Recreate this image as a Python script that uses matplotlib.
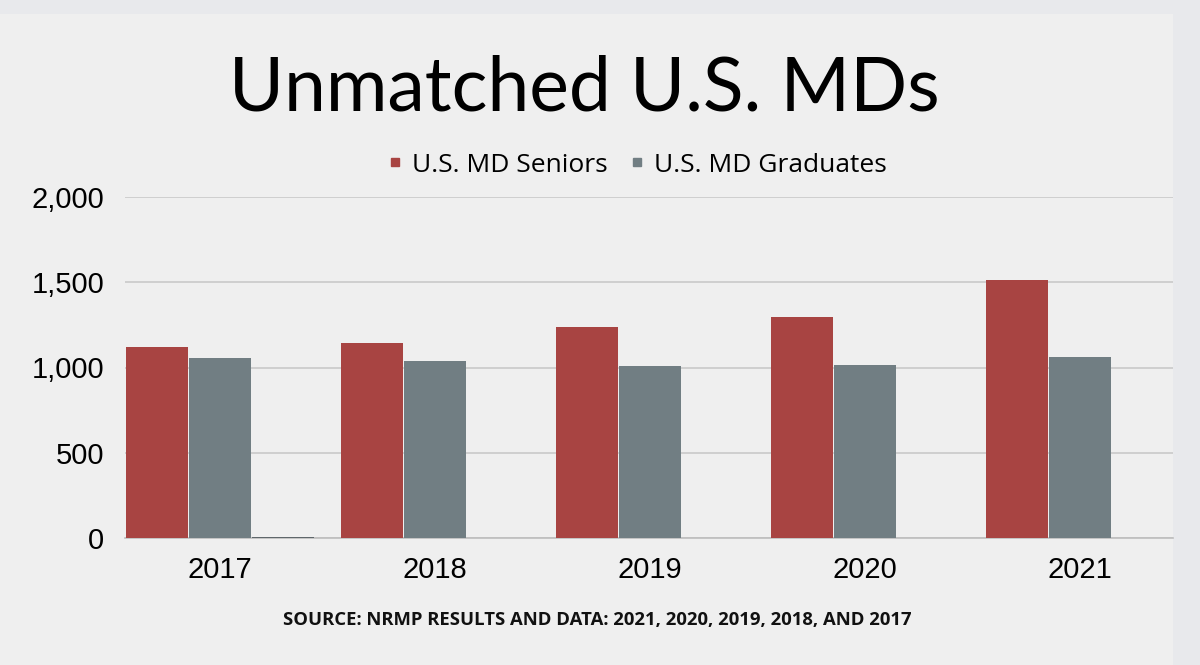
import matplotlib
matplotlib.use("Agg")
import matplotlib.pyplot as plt
from matplotlib.patches import Rectangle
from matplotlib.lines import Line2D
import numpy as np

# data
years = ["2017", "2018", "2019", "2020", "2021"]
seniors = [1118, 1144, 1239, 1296, 1516]
graduates = [1057, 1041, 1011, 1012, 1063]
extra = [6, 0, 0, 0, 0]   # thin sliver next to 2017
series_names = ["U.S. MD Seniors", "U.S. MD Graduates"]
yticks = [0, 500, 1000, 1500, 2000]

red = "#A84442"
gray = "#717E83"
dark = "#5F676B"

fig = plt.figure(figsize=[12, 6.65], dpi=100)
fig.patch.set_facecolor("#E8E9EC")
# light panel behind the chart
fig.add_artist(Rectangle((0, 0), 1173 / 1200, 1 - 14 / 665,
                         transform=fig.transFigure, facecolor="#EFEFEF",
                         edgecolor="none", zorder=-5))

ax = fig.add_axes([125 / 1200, 1 - 538 / 665, 1048 / 1200, 341 / 665])
ax.set_facecolor("none")
ax.set_zorder(2)

x = np.arange(len(years))
step = 0.293
w = 0.288
ax.bar(x - step, seniors, width=w, color=red, zorder=3)
ax.bar(x, graduates, width=w, color=gray, zorder=3)
ax.bar(x + step, extra, width=w, color=dark, zorder=3)

ax.set_ylim(0, 2000)
ax.set_xlim((125 - 220) / 215, (1173 - 220) / 215)
ax.set_yticks(yticks)
ax.set_yticklabels([f"{v:,}" for v in yticks])
ax.set_xticks(x)
ax.set_xticklabels(years)
ax.yaxis.grid(True, color="#C9C9C9", linewidth=1.2, zorder=0)
ax.set_axisbelow(True)
for s in ["top", "right", "left"]:
    ax.spines[s].set_visible(False)
ax.spines["bottom"].set_color("#BDBDBD")
ax.spines["bottom"].set_linewidth(1.2)
ax.tick_params(axis="both", length=0, labelsize=21, colors="black")
ax.tick_params(axis="y", pad=15)
ax.tick_params(axis="x", pad=13)
for lab in ax.get_xticklabels() + ax.get_yticklabels():
    lab.set_family("Liberation Sans")

fig.text(584 / 1200, 1 - 89 / 665, "Unmatched U.S. MDs", ha="center", va="center",
         fontsize=54, family="Lato", color="black")

handles = [Line2D([], [], marker="s", linestyle="none", markersize=5.5,
                  markerfacecolor=c, markeredgecolor=c) for c in (red, gray)]
fig.legend(handles, series_names, loc="center", bbox_to_anchor=(637 / 1200, 1 - 165 / 665),
           ncol=2, frameon=False, handlelength=0.6, handletextpad=0.35,
           columnspacing=0.8, prop={"family": "Open Sans", "size": 19})

fig.text(597 / 1200, 1 - 620 / 665,
         "SOURCE: NRMP RESULTS AND DATA: 2021, 2020, 2019, 2018, AND 2017",
         ha="center", va="center", fontsize=13.3, fontweight="bold",
         family="Open Sans", color="#111111")

fig.savefig("out.png", dpi=100, facecolor=fig.get_facecolor())
